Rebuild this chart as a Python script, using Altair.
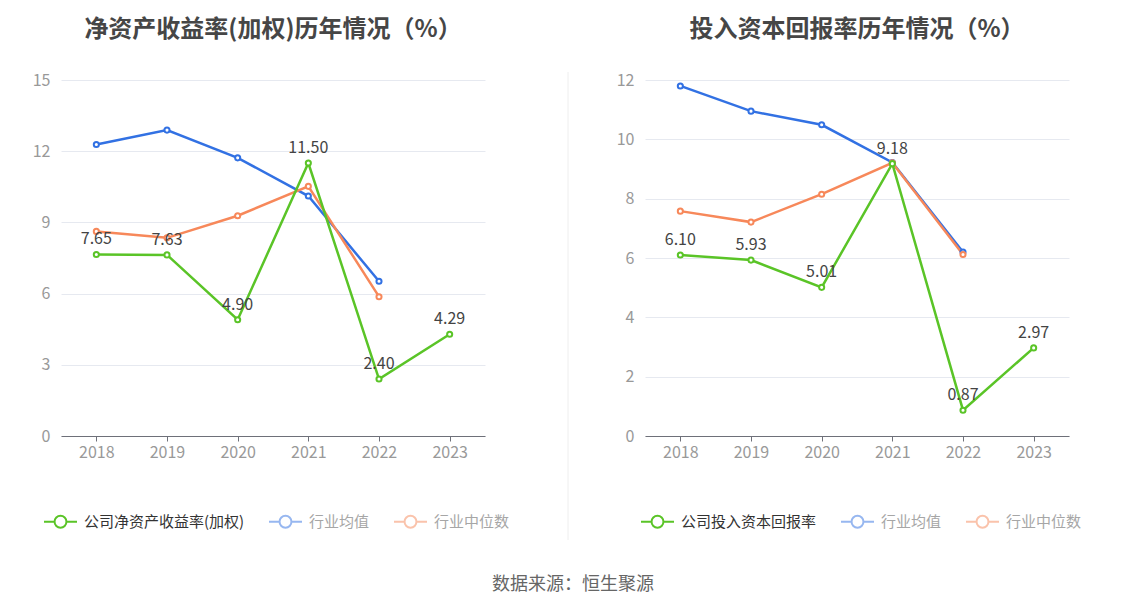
import altair as alt
import pandas as pd

years = ["2018", "2019", "2020", "2021", "2022", "2023"]

roe_company = [7.65, 7.63, 4.90, 11.50, 2.40, 4.29]
roe_avg = [12.28, 12.89, 11.72, 10.11, 6.52, None]
roe_median = [8.62, 8.35, 9.28, 10.52, 5.87, None]

roic_company = [6.10, 5.93, 5.01, 9.18, 0.87, 2.97]
roic_avg = [11.80, 10.95, 10.49, 9.22, 6.20, None]
roic_median = [7.58, 7.21, 8.15, 9.21, 6.12, None]

roe_names = ["公司净资产收益率(加权)", "行业均值", "行业中位数"]
roic_names = ["公司投入资本回报率", "行业均值", "行业中位数"]

title_left = "净资产收益率(加权)历年情况（%）"
title_right = "投入资本回报率历年情况（%）"
source_text = "数据来源：恒生聚源"

roe_ticks = [0, 3, 6, 9, 12, 15]
roic_ticks = [0, 2, 4, 6, 8, 10, 12]

GREEN = "#5AC427"
BLUE = "#3271E3"
ORANGE = "#F7885A"

SYMBOL = ("M-1,0L-0.36,0M0.36,0L1,0"
          "M-0.36,0A0.36,0.36,0,1,1,0.36,0A0.36,0.36,0,1,1,-0.36,0")


def long_df(names, company, avg, median):
    rows = []
    # draw order: avg, median, company on top
    for name, vals in [(names[1], avg), (names[2], median), (names[0], company)]:
        for y, v in zip(years, vals):
            if v is not None:
                rows.append({"year": y, "series": name, "value": v})
    return pd.DataFrame(rows)


def panel(names, company, avg, median, ticks, ymax, title, legend_x, rule=False):
    df = long_df(names, company, avg, median)
    fade = "datum.label == '行业均值' || datum.label == '行业中位数'"
    color = alt.Color(
        "series:N",
        scale=alt.Scale(domain=names, range=[GREEN, BLUE, ORANGE]),
        legend=alt.Legend(
            orient="none",
            legendX=legend_x,
            legendY=424,
            direction="horizontal",
            title=None,
            symbolType=SYMBOL,
            symbolSize=1089,
            symbolStrokeWidth=2,
            symbolFillColor="white",
            labelFontSize=15,
            labelLimit=400,
            labelColor={"expr": fade + " ? '#A6A6A6' : '#333333'"},
            symbolOpacity={"expr": fade + " ? 0.5 : 1"},
            columnPadding=20,
            labelOffset=6,
        ),
    )
    x = alt.X("year:N", title=None, sort=years,
              axis=alt.Axis(labelAngle=0))
    y = alt.Y("value:Q", title=None,
              scale=alt.Scale(domain=[0, ymax], nice=False),
              axis=alt.Axis(values=ticks))
    base = alt.Chart(df)
    lines = base.mark_line(
        strokeWidth=2.5,
        point=alt.OverlayMarkDef(filled=False, fill="white", size=26, strokeWidth=2),
    ).encode(x=x, y=y, color=color)
    labels = base.transform_filter(
        alt.datum.series == names[0]
    ).mark_text(baseline="bottom", dy=-7, fontSize=16, color="#444444").encode(
        x=x, y=y, text=alt.Text("value:Q", format=".2f")
    )
    layers = [lines, labels]
    if rule:
        sep = alt.Chart(pd.DataFrame({"a": [0]})).mark_rule(
            color="#EEEEEE", strokeWidth=1
        ).encode(x=alt.value(507), y=alt.value(-8), y2=alt.value(460))
        layers.append(sep)
    return alt.layer(*layers).properties(
        width=424,
        height=356,
        title=alt.TitleParams(
            title, fontSize=24, fontWeight="bold", color="#464646",
            anchor="middle", frame="group", offset=30,
        ),
    )


left = panel(roe_names, roe_company, roe_avg, roe_median, roe_ticks, 15,
             title_left, -18, rule=True)
right = panel(roic_names, roic_company, roic_avg, roic_median, roic_ticks, 12,
              title_right, -5)

chart = alt.hconcat(left, right, spacing=160, bounds="flush").resolve_scale(
    color="independent", y="independent"
).properties(
    padding={"left": 24, "top": 9, "right": 0, "bottom": 0},
    title=alt.TitleParams(
        source_text, orient="bottom", anchor="middle", dx=16,
        fontSize=18, fontWeight="normal", color="#666666", offset=35,
    ),
).configure(
    font="Noto Sans CJK SC"
).configure_view(
    stroke=None
).configure_axisY(
    domain=False, ticks=False, labelPadding=11, labelColor="#999999",
    labelFontSize=16, gridColor="#E6E9F0", gridWidth=1,
).configure_axisX(
    grid=False, domainColor="#6E7079", tickColor="#6E7079", tickSize=5,
    labelPadding=3, labelColor="#999999", labelFontSize=16,
)

chart.save("out.html", embed_options={"renderer": "svg", "actions": False})
